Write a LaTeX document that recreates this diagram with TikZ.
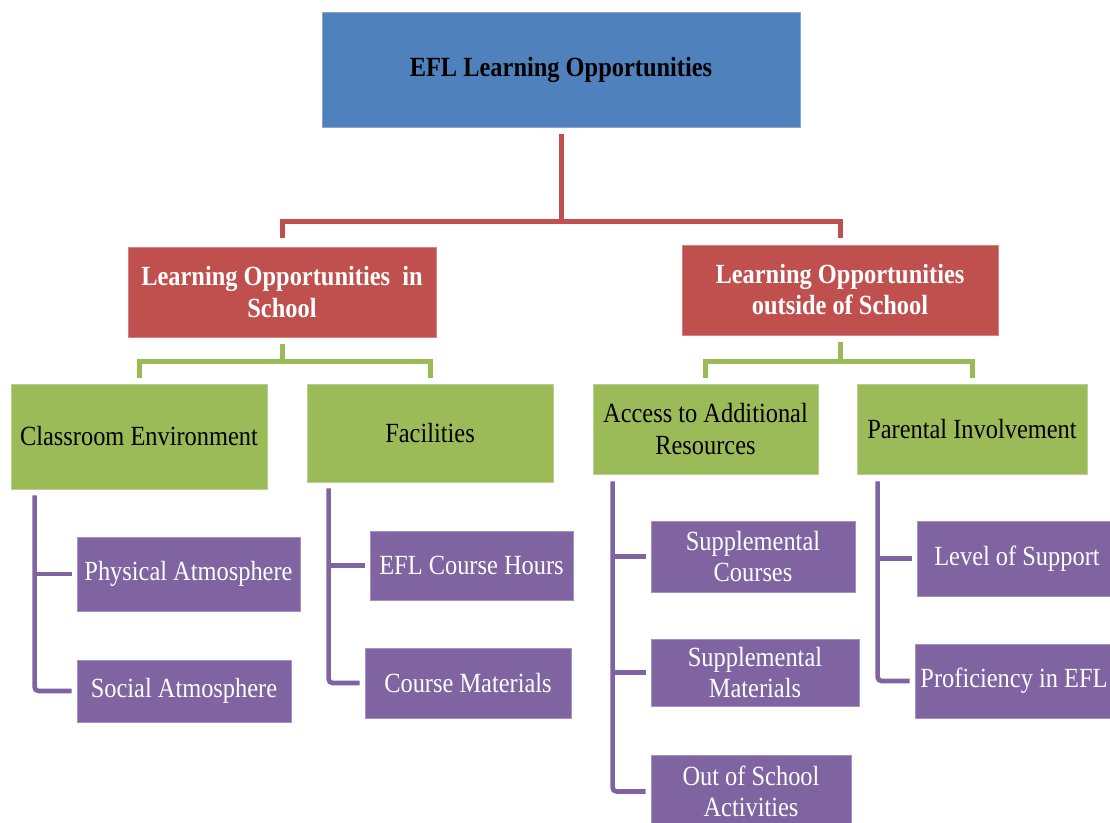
\documentclass[tikz,border=0pt]{standalone}
\usepackage{fontspec}
\setmainfont{Liberation Serif}[FakeStretch=0.88]
\usetikzlibrary{calc}

\definecolor{efblue}{HTML}{4F81BD}
\definecolor{efred}{HTML}{C0504D}
\definecolor{efgreen}{HTML}{9BBB59}
\definecolor{efpurple}{HTML}{8064A2}

\tikzset{
  box/.style n args={2}{rectangle, inner sep=0pt, align=center,
    minimum width=#1*0.75pt, minimum height=#2*0.75pt,
    font=\fontsize{20.8pt}{23.3pt}\selectfont},
  rootbox/.style={fill=efblue, draw=efblue!70!white, line width=0.6pt, text=black, font=\fontsize{20.8pt}{23.3pt}\selectfont\bfseries},
  mainbox/.style={fill=efred, draw=efred!70!white, line width=0.6pt, text=white, font=\fontsize{20.8pt}{23.3pt}\selectfont\bfseries},
  subbox/.style={fill=efgreen, draw=efgreen!70!white, line width=0.6pt, text=black},
  leafbox/.style={fill=efpurple, draw=efpurple!70!white, line width=0.6pt, text=white},
  redline/.style={draw=efred, line width=3.75pt},
  greenline/.style={draw=efgreen, line width=3.75pt},
  purpleline/.style={draw=efpurple, line width=3.5pt, rounded corners=3pt},
}

\begin{document}
\begin{tikzpicture}[x=0.75pt, y=-0.75pt]
\useasboundingbox (0,0) rectangle (1110,823);
\clip (0,0) rectangle (1110,823);

% root
\node[box={478}{115}, rootbox] (top) at (561,69.5) {EFL Learning Opportunities};

% second level
\node[box={308}{90}, mainbox] (lis) at (282,292) {Learning Opportunities\ \ in\\School};
\node[box={316}{90}, mainbox] (los) at (840,290) {Learning Opportunities\\outside of School};

% third level
\node[box={256}{105}, subbox] (cls) at (139,436.5) {Classroom Environment};
\node[box={246}{98}, subbox] (fac) at (430,433) {Facilities};
\node[box={225}{90}, subbox] (acc) at (705.5,429) {Access to Additional\\Resources};
\node[box={230}{90}, subbox] (par) at (972,429) {Parental Involvement};

% leaves
\node[box={223}{74}, leafbox] (phy) at (188.5,574) {Physical Atmosphere};
\node[box={214}{62}, leafbox] (soc) at (184,691) {Social Atmosphere};
\node[box={203}{69}, leafbox] (ech) at (471.5,565.5) {EFL Course Hours};
\node[box={206}{70}, leafbox] (com) at (468,683) {Course Materials};
\node[box={204}{71}, leafbox] (suc) at (753,556.5) {Supplemental\\Courses};
\node[box={208}{67}, leafbox] (sum) at (755,672.5) {Supplemental\\Materials};
\node[box={200}{73}, leafbox] (oos) at (751,791.5) {Out of School\\Activities};
\node[box={200}{75}, leafbox] (los1) at (1017,558.5) {Level of Support};
\node[box={198}{74}, leafbox] (pro) at (1014,681) {Proficiency in EFL};

% root to second level
\draw[redline, shorten <=5.25pt] (top.south) -- (top.south |- 0,222);
\draw[redline, shorten <=6.75pt, shorten >=5.25pt] (lis.north) -- (lis.north |- 0,222) -- (los.north |- 0,222) -- (los.north);

% second to third level
\draw[greenline, shorten <=5.25pt] (lis.south) -- (lis.south |- 0,362);
\draw[greenline, shorten <=4.5pt, shorten >=4.5pt] (cls.north) -- (cls.north |- 0,362) -- (fac.north |- 0,362) -- (fac.north);
\draw[greenline, shorten <=5.25pt] (los.south) -- (los.south |- 0,362);
\draw[greenline, shorten <=4.5pt, shorten >=4.5pt] (acc.north) -- (acc.north |- 0,362) -- (par.north |- 0,362) -- (par.north);

% third level to leaves
\coordinate (v1) at ($(cls.south west)+(24,6)$);
\coordinate (v2) at ($(fac.south west)+(22,6)$);
\coordinate (v3) at ($(acc.south west)+(20,7)$);
\coordinate (v4) at ($(par.south west)+(21,7)$);

\draw[purpleline, shorten >=3.75pt] (v1) |- (soc.west);
\draw[purpleline, shorten <=3.75pt] (phy.west) -- (phy.west -| v1);

\draw[purpleline, shorten >=3.75pt] (v2) |- (com.west);
\draw[purpleline, shorten <=3.75pt] (ech.west) -- (ech.west -| v2);

\draw[purpleline, shorten >=3.75pt] (v3) |- (oos.west);
\draw[purpleline, shorten <=3.75pt] (suc.west) -- (suc.west -| v3);
\draw[purpleline, shorten <=3.75pt] (sum.west) -- (sum.west -| v3);

\draw[purpleline, shorten >=3.75pt] (v4) |- (pro.west);
\draw[purpleline, shorten <=3.75pt] (los1.west) -- (los1.west -| v4);
\end{tikzpicture}
\end{document}
